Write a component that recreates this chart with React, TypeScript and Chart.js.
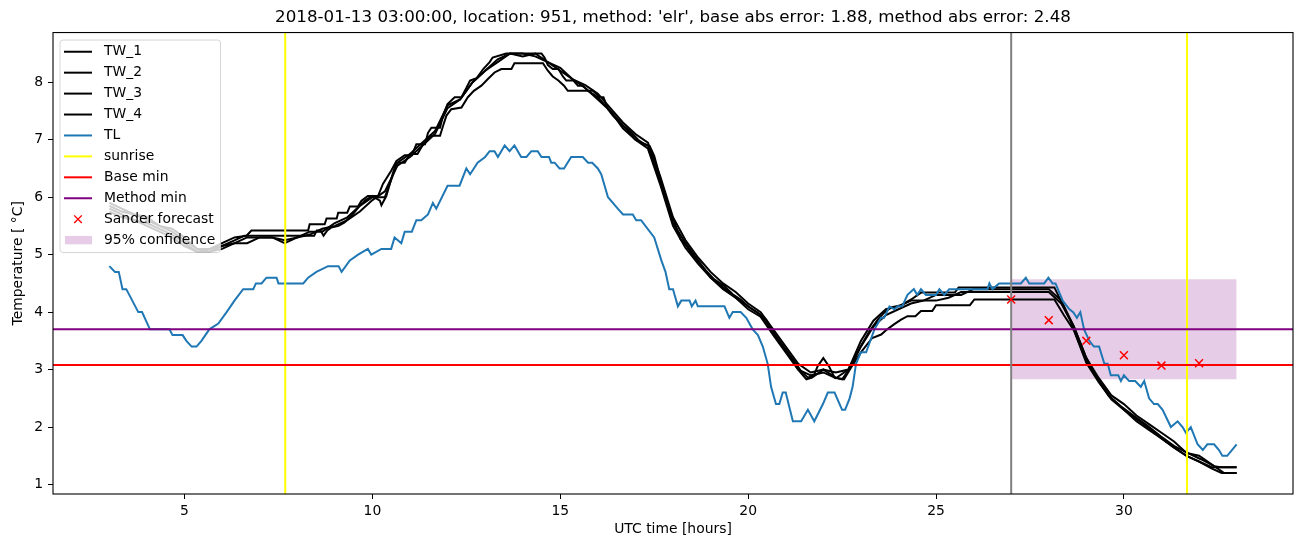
import React, { useEffect, useRef } from "react";
import { Chart, registerables } from "chart.js";

Chart.register(...registerables);

const TITLE =
  "2018-01-13 03:00:00, location: 951, method: 'elr', base abs error: 1.88, method abs error: 2.48";
const X_LABEL = "UTC time [hours]";
const Y_LABEL = "Temperature [ °C]";
const X_TICKS = [5, 10, 15, 20, 25, 30];
const Y_TICKS = [1, 2, 3, 4, 5, 6, 7, 8];
const X_MIN = 1.5;
const X_MAX = 34.5;
const Y_MIN = 0.835;
const Y_MAX = 8.865;

// TW_3 / TW_4 samples every 20 minutes from hour 3 to hour 33
const START_HOUR = 3;
const STEP_HOURS = 1 / 3;

// TL read at its turning points
const TL_HOURS = [
  3.0, 3.15, 3.25, 3.35, 3.45, 3.77, 3.87, 4.08, 4.6, 4.68, 4.95, 5.05, 5.19, 5.32, 5.45, 5.66,
  5.9, 6.12, 6.33, 6.56, 6.83, 6.9, 7.05, 7.18, 7.45, 7.5, 8.16, 8.29, 8.51, 8.82, 9.1, 9.18,
  9.4, 9.62, 9.88, 9.97, 10.24, 10.5, 10.59, 10.77, 10.86, 11.05, 11.17, 11.3, 11.48, 11.61, 11.7, 12.0,
  12.32, 12.5, 12.6, 12.7, 12.8, 13.0, 13.12, 13.25, 13.34, 13.52, 13.65, 13.78, 13.96, 14.1, 14.23, 14.4,
  14.5, 14.7, 14.76, 14.85, 14.98, 15.1, 15.29, 15.6, 15.74, 15.85, 16.0, 16.09, 16.27, 16.4, 16.53, 16.67,
  16.93, 17.02, 17.15, 17.5, 17.69, 17.8, 17.9, 18.0, 18.13, 18.22, 18.44, 18.5, 18.6, 18.66, 19.37, 19.5,
  19.59, 19.8, 19.95, 20.12, 20.26, 20.39, 20.52, 20.61, 20.74, 20.83, 20.92, 21.0, 21.19, 21.41, 21.59, 21.76,
  21.99, 22.12, 22.3, 22.5, 22.58, 22.7, 22.78, 22.87, 23.0, 23.14, 23.36, 23.54, 23.62, 23.76, 23.89, 23.98,
  24.1, 24.24, 24.41, 24.5, 24.6, 24.73, 25.0, 25.09, 25.22, 25.35, 26.37, 26.42, 26.5, 26.68, 27.26, 27.39,
  27.48, 27.88, 27.99, 28.1, 28.18, 28.37, 28.55, 28.65, 28.75, 28.84, 28.94, 29.08, 29.2, 29.34, 29.48, 29.57,
  29.65, 29.85, 29.92, 30.0, 30.14, 30.3, 30.45, 30.54, 30.67, 30.8, 30.9, 31.03, 31.25, 31.43, 31.56, 31.65,
  31.78, 31.96, 32.1, 32.22, 32.4, 32.53, 32.62, 32.75, 33.0,
];
const TL = [
  4.8, 4.7, 4.7, 4.4, 4.4, 4.0, 4.0, 3.7, 3.7, 3.6, 3.6, 3.5, 3.4, 3.4, 3.5, 3.7,
  3.8, 4.0, 4.2, 4.4, 4.4, 4.5, 4.5, 4.6, 4.6, 4.5, 4.5, 4.6, 4.7, 4.8, 4.8, 4.7,
  4.9, 5.0, 5.1, 5.0, 5.1, 5.1, 5.3, 5.2, 5.4, 5.4, 5.6, 5.6, 5.7, 5.9, 5.8, 6.2,
  6.2, 6.5, 6.4, 6.5, 6.6, 6.7, 6.8, 6.8, 6.7, 6.9, 6.8, 6.9, 6.7, 6.7, 6.8, 6.8,
  6.7, 6.7, 6.6, 6.6, 6.5, 6.5, 6.7, 6.7, 6.6, 6.6, 6.5, 6.4, 6.0, 5.9, 5.8, 5.7,
  5.7, 5.6, 5.6, 5.3, 4.9, 4.7, 4.4, 4.4, 4.1, 4.2, 4.2, 4.1, 4.2, 4.1, 4.1, 3.9,
  4.0, 4.0, 3.9, 3.7, 3.6, 3.4, 3.1, 2.7, 2.4, 2.4, 2.6, 2.6, 2.1, 2.1, 2.3, 2.1,
  2.4, 2.6, 2.6, 2.3, 2.3, 2.5, 2.7, 3.1, 3.3, 3.3, 3.7, 3.9, 3.9, 4.1, 4.05, 4.1,
  4.1, 4.3, 4.4, 4.3, 4.4, 4.3, 4.3, 4.4, 4.3, 4.4, 4.4, 4.5, 4.4, 4.5, 4.5, 4.6,
  4.5, 4.5, 4.6, 4.5, 4.5, 4.2, 4.05, 4.0, 3.9, 4.0, 3.7, 3.5, 3.4, 3.4, 3.1, 3.1,
  2.9, 2.9, 2.8, 2.9, 2.8, 2.8, 2.7, 2.8, 2.5, 2.4, 2.4, 2.3, 2.0, 2.1, 2.0, 1.9,
  2.0, 1.7, 1.6, 1.7, 1.7, 1.6, 1.5, 1.5, 1.7,
];

// TW_1 and TW_2 read at their steps
const TW_1_HOURS = [
  3.0, 3.33, 3.67, 4.0, 4.33, 4.67, 5.0, 5.33, 5.67, 6.0, 6.33, 6.65, 6.78, 8.29, 8.33, 8.73,
  8.78, 9.05, 9.09, 9.33, 9.4, 9.62, 9.71, 9.88, 10.15, 10.28, 10.5, 10.64, 10.86, 11.05, 11.17, 11.4,
  11.48, 11.57, 11.8, 11.88, 12.0, 12.19, 12.37, 12.5, 12.6, 12.77, 12.95, 13.12, 13.2, 13.56, 14.5, 14.58,
  14.67, 14.8, 14.95, 15.07, 15.16, 15.35, 15.47, 15.6, 15.74, 15.87, 16.05, 16.15, 16.27, 16.4, 16.67, 16.8,
  16.93, 17.07, 17.24, 17.38, 17.5, 17.69, 17.86, 18.04, 18.2, 18.35, 18.53, 18.7, 18.88, 19.1, 19.37, 19.59,
  19.8, 20.04, 20.26, 20.48, 20.66, 20.83, 21.06, 21.23, 21.41, 21.59, 21.75, 21.85, 22.0, 22.15, 22.3, 22.5,
  22.65, 22.83, 23.0, 23.23, 23.45, 23.62, 23.8, 24.07, 24.34, 24.6, 25.5, 25.6, 28.15, 28.57, 29.02, 29.38,
  29.6, 29.92, 30.27, 30.63, 30.98, 31.34, 31.69, 32.05, 32.4, 32.58, 33.0,
];
const TW_1 = [
  5.9, 5.8, 5.7, 5.65, 5.5, 5.45, 5.3, 5.1, 5.1, 5.2, 5.3, 5.33, 5.42, 5.42, 5.53, 5.53,
  5.63, 5.63, 5.73, 5.73, 5.84, 5.84, 5.94, 6.02, 6.02, 6.23, 6.46, 6.63, 6.73, 6.73, 6.92, 6.92,
  7.12, 7.21, 7.21, 7.42, 7.62, 7.74, 7.74, 7.9, 8.03, 8.07, 8.23, 8.35, 8.43, 8.5, 8.5, 8.43,
  8.3, 8.23, 8.23, 8.1, 8.03, 8.03, 7.94, 7.94, 7.85, 7.85, 7.74, 7.74, 7.53, 7.42, 7.24, 7.18,
  7.1, 7.0, 6.92, 6.89, 6.72, 6.26, 5.85, 5.56, 5.27, 5.16, 4.98, 4.86, 4.72, 4.57, 4.45, 4.31,
  4.22, 4.08, 3.99, 3.87, 3.67, 3.47, 3.29, 3.15, 2.97, 2.86, 2.9, 3.06, 3.2, 3.06, 2.86, 2.83,
  2.97, 3.18, 3.41, 3.67, 3.87, 3.99, 4.08, 4.12, 4.22, 4.34, 4.34, 4.43, 4.43, 3.86, 3.11, 2.76,
  2.54, 2.36, 2.19, 2.02, 1.84, 1.67, 1.55, 1.44, 1.32, 1.3, 1.3,
];

const TW_2_HOURS = [
  3.0, 3.33, 3.67, 4.0, 4.33, 4.67, 5.0, 5.33, 5.67, 6.0, 6.33, 6.6, 8.45, 8.52, 8.62, 8.7,
  8.8, 8.9, 9.1, 9.26, 9.4, 9.5, 9.66, 9.8, 10.0, 10.2, 10.24, 10.37, 10.55, 10.64, 10.86, 11.0,
  11.2, 11.35, 11.57, 11.8, 11.88, 11.97, 12.1, 12.37, 12.54, 12.7, 12.9, 13.08, 13.25, 13.43, 13.7, 13.78,
  14.54, 14.67, 14.8, 14.95, 15.1, 15.2, 15.74, 16.0, 16.33, 16.67, 17.0, 17.33, 17.67, 18.0, 18.33, 18.67,
  19.0, 19.33, 19.67, 20.0, 20.33, 20.67, 21.0, 21.33, 21.55, 21.7, 22.0, 22.33, 22.55, 22.8, 23.0, 23.3,
  23.54, 23.7, 23.89, 24.07, 24.24, 24.45, 24.6, 24.9, 25.0, 25.9, 26.02, 28.15, 28.4, 28.67, 29.0, 29.33,
  29.67, 30.0, 30.33, 30.67, 31.0, 31.33, 31.67, 32.0, 32.33, 32.6, 33.0,
];
const TW_2 = [
  5.85, 5.75, 5.7, 5.6, 5.5, 5.4, 5.25, 5.1, 5.05, 5.15, 5.25, 5.33, 5.33, 5.42, 5.42, 5.33,
  5.42, 5.47, 5.5, 5.56, 5.65, 5.72, 5.85, 5.94, 6.02, 5.94, 5.86, 6.02, 6.43, 6.6, 6.6, 6.75,
  6.75, 6.92, 7.07, 7.07, 7.24, 7.42, 7.53, 7.56, 7.74, 7.85, 7.94, 8.06, 8.17, 8.23, 8.23, 8.33,
  8.33, 8.2, 8.1, 8.03, 7.94, 7.85, 7.85, 7.74, 7.5, 7.25, 7.0, 6.85, 6.2, 5.5, 5.12, 4.84,
  4.6, 4.43, 4.25, 4.05, 3.92, 3.6, 3.3, 3.0, 2.83, 2.86, 3.0, 2.86, 2.83, 3.1, 3.3, 3.55,
  3.61, 3.7, 3.79, 3.87, 3.93, 3.93, 4.02, 4.02, 4.12, 4.12, 4.22, 4.22, 3.95, 3.68, 3.12, 2.78,
  2.48, 2.3, 2.14, 1.98, 1.8, 1.64, 1.5, 1.4, 1.28, 1.2, 1.2,
];

const TW_3 = [
  5.8, 5.7, 5.6, 5.55, 5.45, 5.35, 5.2, 5.05, 5.1, 5.15, 5.2, 5.2, 5.3, 5.3, 5.25, 5.3,
  5.35, 5.45, 5.5, 5.6, 5.75, 5.95, 6.1, 6.55, 6.7, 6.9, 7.1, 7.55, 7.7, 8.0, 8.2, 8.35,
  8.5, 8.45, 8.5, 8.35, 8.2, 8.05, 7.95, 7.8, 7.55, 7.3, 7.1, 6.95, 6.35, 5.65, 5.25, 4.95,
  4.7, 4.5, 4.35, 4.15, 4.0, 3.7, 3.4, 3.1, 2.95, 3.0, 2.95, 3.0, 3.5, 3.85, 4.05, 4.1,
  4.2, 4.2, 4.2, 4.25, 4.35, 4.35, 4.35, 4.35, 4.35, 4.35, 4.35, 4.35, 4.15, 3.75, 3.2, 2.85,
  2.55, 2.4, 2.2, 2.05, 1.9, 1.75, 1.55, 1.5, 1.35, 1.2, 1.2,
];

const TW_4 = [
  5.75, 5.65, 5.6, 5.5, 5.4, 5.3, 5.15, 5.05, 5.05, 5.1, 5.2, 5.3, 5.3, 5.3, 5.2, 5.3,
  5.4, 5.4, 5.55, 5.65, 5.85, 6.0, 6.0, 6.6, 6.75, 6.95, 7.15, 7.6, 7.7, 8.0, 8.2, 8.4,
  8.5, 8.5, 8.45, 8.35, 8.25, 8.05, 7.9, 7.7, 7.5, 7.2, 7.0, 6.9, 6.25, 5.55, 5.2, 4.9,
  4.6, 4.4, 4.25, 4.1, 3.95, 3.65, 3.35, 3.0, 2.9, 2.95, 2.85, 3.0, 3.4, 3.75, 3.95, 4.05,
  4.15, 4.2, 4.3, 4.3, 4.3, 4.4, 4.4, 4.4, 4.4, 4.4, 4.4, 4.4, 4.2, 3.75, 3.2, 2.8,
  2.5, 2.3, 2.1, 1.95, 1.8, 1.65, 1.5, 1.4, 1.3, 1.3, 1.3,
];

const SUNRISE_HOURS = [7.68, 31.68];
const NOW_HOUR = 27;
const BASE_MIN = 3.08;
const METHOD_MIN = 3.7;
const FORECAST_HOURS = [27, 28, 29, 30, 31, 32];
const FORECAST = [4.22, 3.86, 3.5, 3.25, 3.07, 3.11];
const CONF_HOURS = [27, 33];
const CONF_LOW = 2.83;
const CONF_HIGH = 4.57;

const FONT = "DejaVu Sans";
const TL_COLOR = "#1f77b4";
const CONF_COLOR = "rgba(128,0,128,0.2)";

const LEGEND_ITEMS = [
  { label: "TW_1", kind: "line", color: "#000000" },
  { label: "TW_2", kind: "line", color: "#000000" },
  { label: "TW_3", kind: "line", color: "#000000" },
  { label: "TW_4", kind: "line", color: "#000000" },
  { label: "TL", kind: "line", color: TL_COLOR },
  { label: "sunrise", kind: "line", color: "#ffff00" },
  { label: "Base min", kind: "line", color: "#ff0000" },
  { label: "Method min", kind: "line", color: "#800080" },
  { label: "Sander forecast", kind: "marker", color: "#ff0000" },
  { label: "95% confidence", kind: "patch", color: CONF_COLOR },
];

const gridSeries = (values: number[]) =>
  values.map((y, i) => ({ x: START_HOUR + i * STEP_HOURS, y }));
const pairSeries = (hours: number[], values: number[]) =>
  hours.map((x, i) => ({ x, y: values[i] }));

const lineDs = (label: string, data: any[], color: string, extra: any = {}) => ({
  type: "line" as const,
  label,
  data,
  borderColor: color,
  backgroundColor: color,
  borderWidth: 2,
  pointRadius: 0,
  tension: 0,
  fill: false,
  ...extra,
});

const framePlugin = {
  id: "frame",
  afterDatasetsDraw(chart: any) {
    const { ctx, chartArea } = chart;
    ctx.save();
    ctx.strokeStyle = "#000";
    ctx.lineWidth = 1.1;
    ctx.strokeRect(chartArea.left, chartArea.top, chartArea.right - chartArea.left, chartArea.bottom - chartArea.top);
    ctx.restore();
  },
};

const legendPlugin = {
  id: "mplLegend",
  afterDraw(chart: any) {
    const { ctx, chartArea } = chart;
    const x0 = chartArea.left + 7;
    const y0 = chartArea.top + 7.5;
    const w = 160.5;
    const h = 212.5;
    ctx.save();
    ctx.beginPath();
    ctx.roundRect(x0, y0, w, h, 3);
    ctx.fillStyle = "rgba(255,255,255,0.8)";
    ctx.fill();
    ctx.strokeStyle = "rgba(204,204,204,0.8)";
    ctx.lineWidth = 1;
    ctx.stroke();
    ctx.font = `13.9px "${FONT}"`;
    ctx.textBaseline = "middle";
    ctx.textAlign = "left";
    LEGEND_ITEMS.forEach((item, i) => {
      const cy = y0 + 11.7 + i * 20.93;
      const hx0 = x0 + 4;
      const hx1 = x0 + 32;
      if (item.kind === "line") {
        ctx.strokeStyle = item.color;
        ctx.lineWidth = 2;
        ctx.beginPath();
        ctx.moveTo(hx0, cy);
        ctx.lineTo(hx1, cy);
        ctx.stroke();
      } else if (item.kind === "marker") {
        const cx = (hx0 + hx1) / 2;
        const r = 3.8;
        ctx.strokeStyle = item.color;
        ctx.lineWidth = 1.4;
        ctx.beginPath();
        ctx.moveTo(cx - r, cy - r);
        ctx.lineTo(cx + r, cy + r);
        ctx.moveTo(cx - r, cy + r);
        ctx.lineTo(cx + r, cy - r);
        ctx.stroke();
      } else {
        ctx.fillStyle = item.color;
        ctx.fillRect(hx0 + 1, cy - 4.2, hx1 - hx0 - 1, 8.4);
      }
      ctx.fillStyle = "#000";
      ctx.fillText(item.label, x0 + 44, cy);
    });
    ctx.restore();
  },
};

export default function App() {
  const ref = useRef<HTMLCanvasElement>(null);

  useEffect(() => {
    document.body.style.margin = "0";
    const datasets: any[] = [
      lineDs(
        "95% confidence",
        CONF_HOURS.map((x) => ({ x, y: CONF_HIGH })),
        CONF_COLOR,
        { borderWidth: 0, fill: { value: CONF_LOW }, backgroundColor: CONF_COLOR }
      ),
      lineDs("TW_1", pairSeries(TW_1_HOURS, TW_1), "#000000"),
      lineDs("TW_2", pairSeries(TW_2_HOURS, TW_2), "#000000"),
      lineDs("TW_3", gridSeries(TW_3), "#000000"),
      lineDs("TW_4", gridSeries(TW_4), "#000000"),
      lineDs("TL", pairSeries(TL_HOURS, TL), TL_COLOR),
      lineDs("sunrise", [{ x: SUNRISE_HOURS[0], y: Y_MIN }, { x: SUNRISE_HOURS[0], y: Y_MAX }], "#ffff00"),
      lineDs("sunrise_2", [{ x: SUNRISE_HOURS[1], y: Y_MIN }, { x: SUNRISE_HOURS[1], y: Y_MAX }], "#ffff00"),
      lineDs("Base min", [{ x: X_MIN, y: BASE_MIN }, { x: X_MAX, y: BASE_MIN }], "#ff0000"),
      lineDs("Method min", [{ x: X_MIN, y: METHOD_MIN }, { x: X_MAX, y: METHOD_MIN }], "#800080"),
      lineDs("now", [{ x: NOW_HOUR, y: Y_MIN }, { x: NOW_HOUR, y: Y_MAX }], "#808080"),
      lineDs(
        "Sander forecast",
        FORECAST_HOURS.map((x, i) => ({ x, y: FORECAST[i] })),
        "#ff0000",
        { showLine: false, pointStyle: "crossRot", pointRadius: 5.6, borderWidth: 1.5, pointBorderWidth: 1.5 }
      ),
    ];
    const n = datasets.length;
    datasets.forEach((d, i) => (d.order = n - i));

    const chart = new Chart(ref.current!, {
      type: "line",
      data: { datasets },
      options: {
        responsive: false,
        animation: false,
        events: [],
        layout: { padding: { left: 0, right: 9, top: 0, bottom: 0 } },
        plugins: {
          legend: { display: false },
          tooltip: { enabled: false },
          title: {
            display: true,
            text: TITLE,
            fullSize: false,
            color: "#000",
            font: { family: FONT, size: 16.7, weight: "normal" },
            padding: { top: 8, bottom: 4.5 },
          },
        },
        scales: {
          x: {
            type: "linear",
            min: X_MIN,
            max: X_MAX,
            afterBuildTicks: (scale: any) => {
              scale.ticks = X_TICKS.map((value) => ({ value }));
            },
            afterFit: (scale: any) => {
              scale.height = 53;
            },
            ticks: {
              color: "#000",
              padding: 4,
              font: { family: FONT, size: 13.9 },
              maxRotation: 0,
              autoSkip: false,
            },
            grid: {
              display: true,
              drawOnChartArea: false,
              drawTicks: true,
              tickLength: 5,
              color: "#000",
              lineWidth: 1,
            },
            border: { display: false },
            title: {
              display: true,
              text: X_LABEL,
              color: "#000",
              font: { family: FONT, size: 13.9 },
              padding: { top: 0, bottom: 9.7 },
            },
          },
          y: {
            type: "linear",
            min: Y_MIN,
            max: Y_MAX,
            afterBuildTicks: (scale: any) => {
              scale.ticks = Y_TICKS.map((value) => ({ value }));
            },
            afterFit: (scale: any) => {
              scale.width = 53;
            },
            ticks: {
              color: "#000",
              padding: 5,
              font: { family: FONT, size: 13.9 },
              autoSkip: false,
            },
            grid: {
              display: true,
              drawOnChartArea: false,
              drawTicks: true,
              tickLength: 5,
              color: "#000",
              lineWidth: 1,
            },
            border: { display: false },
            title: {
              display: true,
              text: Y_LABEL,
              color: "#000",
              font: { family: FONT, size: 13.9 },
              padding: { top: 9.7, bottom: 0 },
            },
          },
        },
      },
      plugins: [framePlugin, legendPlugin],
    } as any);
    return () => chart.destroy();
  }, []);

  return (
    <div style={{ position: "absolute", left: 0, top: 0, width: 1302, height: 547, background: "#fff" }}>
      <canvas ref={ref} width={1302} height={547} style={{ display: "block", width: 1302, height: 547 }} />
    </div>
  );
}
